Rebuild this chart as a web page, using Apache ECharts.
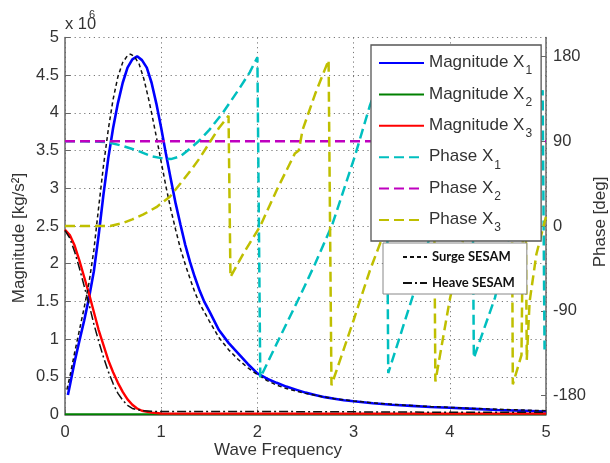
<!DOCTYPE html>
<html><head><meta charset="utf-8">
<script src="https://cdn.jsdelivr.net/npm/echarts@6/dist/echarts.min.js"></script>
<style>html,body{margin:0;padding:0;background:#fff}#c{width:610px;height:463px}</style>
</head><body><div id="c"></div>
<script>
// ---- data ----
const magX1 = [[0.03,0.26],[0.05,0.38],[0.1,0.7],[0.15,0.98],[0.2,1.25],[0.25,1.55],[0.3,1.9],[0.35,2.38],[0.4,2.92],[0.45,3.4],[0.5,3.8],[0.55,4.13],[0.6,4.4],[0.65,4.6],[0.7,4.71],[0.75,4.75],[0.8,4.7],[0.85,4.6],[0.9,4.4],[0.95,4.12],[1.0,3.8],[1.05,3.45],[1.1,3.12],[1.15,2.8],[1.2,2.52],[1.25,2.25],[1.3,2.02],[1.35,1.82],[1.4,1.64],[1.45,1.49],[1.5,1.37],[1.6,1.12],[1.7,0.95],[1.8,0.81],[1.9,0.67],[2.0,0.545],[2.1,0.475],[2.2,0.42],[2.3,0.37],[2.4,0.33],[2.5,0.29],[2.6,0.26],[2.7,0.23],[2.8,0.21],[2.9,0.19],[3.0,0.175],[3.2,0.15],[3.4,0.13],[3.6,0.115],[3.8,0.1],[4.0,0.09],[4.25,0.075],[4.5,0.06],[4.75,0.05],[5,0.04]];
const magX2 = [[0,0.003],[1,0.003],[2,0.003],[3,0.003],[4,0.003],[5,0.003]];
const magX3 = [[0,2.45],[0.05,2.38],[0.1,2.24],[0.15,2.04],[0.2,1.82],[0.25,1.6],[0.3,1.36],[0.35,1.12],[0.4,0.92],[0.45,0.72],[0.5,0.56],[0.55,0.42],[0.6,0.3],[0.65,0.2],[0.7,0.13],[0.75,0.08],[0.8,0.05],[0.9,0.025],[1.0,0.014],[2,0.012],[3,0.012],[4,0.012],[5,0.012]];
const surgeSesam = [[0.02,0.33],[0.05,0.5],[0.1,0.82],[0.15,1.12],[0.2,1.42],[0.25,1.75],[0.3,2.18],[0.35,2.75],[0.4,3.3],[0.45,3.78],[0.5,4.18],[0.55,4.48],[0.6,4.67],[0.65,4.76],[0.68,4.78],[0.72,4.75],[0.77,4.65],[0.82,4.45],[0.87,4.18],[0.9,4.0],[0.95,3.68],[1.0,3.35],[1.05,3.02],[1.1,2.72],[1.15,2.45],[1.2,2.2],[1.25,1.99],[1.3,1.8],[1.35,1.62],[1.4,1.47],[1.5,1.24],[1.6,1.02],[1.7,0.86],[1.8,0.73],[1.9,0.62],[2.0,0.53],[2.1,0.45],[2.2,0.39],[2.3,0.345],[2.4,0.31],[2.5,0.28],[2.6,0.255],[2.7,0.23],[2.8,0.21],[2.9,0.195],[3.0,0.18],[3.2,0.155],[3.4,0.135],[3.6,0.12],[3.8,0.105],[4.0,0.095],[4.25,0.08],[4.5,0.07],[4.75,0.06],[5,0.05]];
const heaveSesam = [[0,2.44],[0.05,2.34],[0.1,2.16],[0.15,1.94],[0.2,1.7],[0.25,1.46],[0.3,1.2],[0.35,0.97],[0.4,0.76],[0.45,0.57],[0.5,0.41],[0.55,0.28],[0.6,0.19],[0.65,0.12],[0.7,0.08],[0.8,0.05],[0.9,0.042],[1.0,0.04],[2,0.04],[3,0.035],[4,0.03],[5,0.03]];
const phaseX1 = [[0,90],[0.2,90],[0.44,89],[0.6,85],[0.75,80],[0.9,74],[1.0,72],[1.1,71],[1.2,74],[1.3,82],[1.4,91],[1.5,102],[1.64,120],[1.82,147],[1.92,163],[2.0,179],[2.03,-161],[2.2,-125],[2.44,-75],[2.6,-40],[2.78,2],[3.01,73],[3.17,128],[3.34,175],[3.36,-156],[3.62,-73],[4.23,145],[4.25,-140],[4.47,-76],[4.965,144],[4.985,-131]];
const phaseX2 = [[0,90],[1,90],[2,90],[3,90],[4,90],[5,90]];
const phaseX3 = [[0,0],[0.47,0],[0.6,3],[0.7,7],[0.81,12],[0.95,20],[1.09,31],[1.2,45],[1.3,58],[1.4,72],[1.5,88],[1.6,104],[1.7,117],[1.72,-54],[1.85,-30],[2.03,0],[2.2,38],[2.39,77],[2.43,80],[2.47,102],[2.6,140],[2.74,176],[2.77,-169],[3.0,-100],[3.17,-47],[3.3,-12],[3.83,150],[3.85,-165],[4.0,-78],[4.3,60],[4.64,170],[4.655,-168],[4.745,-137],[4.78,175],[4.8,-142],[4.83,-80],[4.9,-30],[5.0,10]];
const phaseTicks = [-180,-90,0,90,180];
const legendMain = ['Magnitude X1','Magnitude X2','Magnitude X3','Phase X1','Phase X2','Phase X3'];
const legendSesam = ['Surge SESAM','Heave SESAM'];

const FONT = 'Liberation Sans, Arial, sans-serif';
const TXT = '#333';
const chart = echarts.init(document.getElementById('c'));

function line(name, data, yIdx, color, width, type, z) {
  return {name, type:'line', data, xAxisIndex:0, yAxisIndex:yIdx, symbol:'none', smooth:false,
    animation:false, silent:true, z: z || 2,
    lineStyle:{color, width, type: type || 'solid'}, itemStyle:{color}};
}

chart.setOption({
  animation:false,
  backgroundColor:'#fff',
  grid:{left:65, right:64, top:37.5, bottom:48.5},
  xAxis:{type:'value', min:0, max:5, interval:1,
    axisLine:{show:true, lineStyle:{color:'#666', width:1.5}},
    axisTick:{show:true, inside:true, length:5, lineStyle:{color:'#666'}},
    axisLabel:{fontSize:16.5, color:TXT, fontFamily:FONT, margin:9},
    splitLine:{show:true, lineStyle:{color:'#777', width:1, type:[1.2,3.6]}}},
  yAxis:[
    {type:'value', min:0, max:5, interval:0.5, position:'left',
      axisLine:{show:true, lineStyle:{color:'#666', width:1.5}},
      axisTick:{show:true, inside:true, length:5, lineStyle:{color:'#666'}},
      axisLabel:{fontSize:16.5, color:TXT, fontFamily:FONT, margin:6},
      splitLine:{show:true, lineStyle:{color:'#777', width:1, type:[1.2,3.6]}}},
    {type:'value', min:-200, max:200, interval:20, position:'right',
      axisLine:{show:true, lineStyle:{color:'#666', width:1.5}},
      axisTick:{show:true, inside:true, length:5, customValues:phaseTicks, lineStyle:{color:'#666'}},
      axisLabel:{fontSize:16.5, color:TXT, fontFamily:FONT, margin:7, customValues:phaseTicks},
      splitLine:{show:false}}
  ],
  legend:[
    {data:legendMain, orient:'vertical', left:371, top:45, selectedMode:false,
      backgroundColor:'#fff', borderColor:'#555', borderWidth:1.3, borderRadius:0,
      padding:[9,9,7,7], itemWidth:45, itemHeight:1, itemGap:8.4, z:10,
      itemStyle:{opacity:0},
      formatter:function(name){const m=name.match(/^(.*X)(\d)$/); return '{a|'+m[1]+'}{s|'+m[2]+'}';},
      textStyle:{fontSize:17, color:TXT, fontFamily:FONT,
        rich:{a:{fontSize:17, lineHeight:18, verticalAlign:'top', color:TXT, fontFamily:FONT},
              s:{fontSize:12, lineHeight:13, padding:[11,0,0,1], verticalAlign:'top', color:TXT, fontFamily:FONT}}}},
    {data:legendSesam, orient:'vertical', left:383, top:243, selectedMode:false,
      backgroundColor:'#fff', borderColor:'#888', borderWidth:1, borderRadius:0,
      padding:[6,12,3,19], itemWidth:24, itemHeight:1, itemGap:10, z:10,
      itemStyle:{opacity:0},
      textStyle:{fontSize:13, fontWeight:'bold', color:'#111', fontFamily:'Lato, Open Sans, sans-serif', lineHeight:16}}
  ],
  graphic:[
    {type:'text', x:65, y:24, silent:true, style:{text:'x 10', fontSize:16.5, fontFamily:FONT, fill:TXT, align:'left', verticalAlign:'middle'}},
    {type:'text', x:89, y:15, silent:true, style:{text:'6', fontSize:11, fontFamily:FONT, fill:TXT, align:'left', verticalAlign:'middle'}},
    {type:'text', x:19, y:238, rotation:Math.PI/2, silent:true, style:{text:'Magnitude [kg/s²]', fontSize:17, fontFamily:FONT, fill:TXT, align:'center', verticalAlign:'middle'}},
    {type:'text', x:600, y:222, rotation:Math.PI/2, silent:true, style:{text:'Phase [deg]', fontSize:17, fontFamily:FONT, fill:TXT, align:'center', verticalAlign:'middle'}},
    {type:'text', x:278, y:450, silent:true, style:{text:'Wave Frequency', fontSize:17, fontFamily:FONT, fill:TXT, align:'center', verticalAlign:'middle'}}
  ],
  series:[
    line('Magnitude X2', magX2, 0, '#008000', 2),
    line('Magnitude X1', magX1, 0, '#0000ff', 2.6),
    line('Magnitude X3', magX3, 0, '#ff0000', 2.4),
    line('Surge SESAM', surgeSesam, 0, '#111', 1.5, [4,3], 3),
    line('Heave SESAM', heaveSesam, 0, '#111', 1.5, [9,3,2,3], 3),
    line('Phase X1', phaseX1, 1, '#00bfbf', 2.5, [10,5], 4),
    line('Phase X2', phaseX2, 1, '#bf00bf', 2.5, [10,5], 4),
    line('Phase X3', phaseX3, 1, '#bfbf00', 2.5, [10,5], 4)
  ]
});
</script></body></html>
